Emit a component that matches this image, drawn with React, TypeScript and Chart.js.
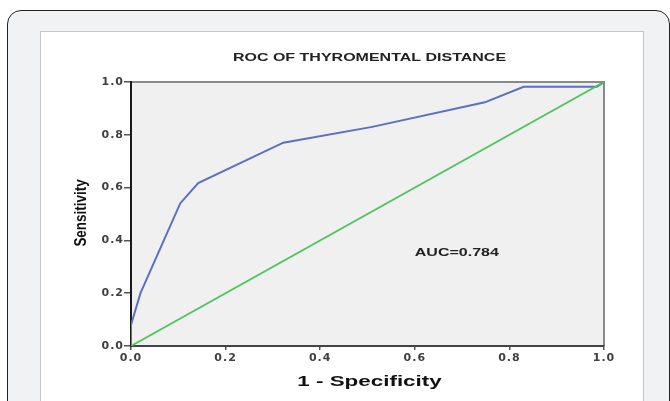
import React, { useEffect, useRef } from "react";
import { Chart, registerables } from "chart.js";

Chart.register(...registerables);

const chartTitle = "ROC OF THYROMENTAL DISTANCE";
const xAxisTitle = "1 - Specificity";
const yAxisTitle = "Sensitivity";
const aucLabel = "AUC=0.784";
const aucPos = [0.6, 0.35];

const fprValues = [0, 0, 0.02, 0.104, 0.142, 0.322, 0.51, 0.748, 0.83, 0.985, 1];
const tprValues = [0, 0.08, 0.2, 0.54, 0.617, 0.77, 0.83, 0.923, 0.982, 0.982, 1];
const refX = [0, 1];
const refY = [0, 1];
const tickValues = [0, 0.2, 0.4, 0.6, 0.8, 1.0];

function stretchedText(ctx: CanvasRenderingContext2D, text: string, x: number, y: number, sx: number, font: string, color: string, align: CanvasTextAlign, rotate = 0) {
  ctx.save();
  ctx.letterSpacing = "0px";
  ctx.translate(x, y);
  if (rotate) ctx.rotate(rotate);
  ctx.scale(sx, 1);
  ctx.font = font;
  ctx.fillStyle = color;
  ctx.textAlign = align;
  ctx.textBaseline = "middle";
  ctx.fillText(text, 0, 0);
  ctx.restore();
}

const decorPlugin = {
  id: "decor",
  beforeDraw(chart: any) {
    const { ctx, chartArea: a } = chart;
    ctx.save();
    ctx.fillStyle = "#f0f0f0";
    ctx.fillRect(a.left, a.top, a.right - a.left, a.bottom - a.top);
    ctx.strokeStyle = "#8a8a8a";
    ctx.lineWidth = 2;
    ctx.beginPath();
    ctx.moveTo(a.left, a.top);
    ctx.lineTo(a.right, a.top);
    ctx.lineTo(a.right, a.bottom);
    ctx.stroke();
    ctx.restore();
    ctx.letterSpacing = "1px";
  },
  afterDraw(chart: any) {
    const { ctx, chartArea: a, scales } = chart;
    const cx = (a.left + a.right) / 2 + 2;
    stretchedText(ctx, chartTitle, cx, a.top - 24, 1.6, "bold 10px 'Liberation Sans', Arial, sans-serif", "#222", "center");
    stretchedText(ctx, xAxisTitle, cx, a.bottom + 36, 1.6, "bold 14px 'Liberation Sans', Arial, sans-serif", "#111", "center");
    stretchedText(ctx, yAxisTitle, a.left - 49, (a.top + a.bottom) / 2 - 1, 0.84, "bold 16px 'Liberation Sans', Arial, sans-serif", "#111", "center", -Math.PI / 2);
    const ax = scales.x.getPixelForValue(aucPos[0]);
    const ay = scales.y.getPixelForValue(aucPos[1]);
    stretchedText(ctx, aucLabel, ax, ay, 1.6, "bold 10px 'Liberation Sans', Arial, sans-serif", "#222", "left");
  },
};

export default function App() {
  const ref = useRef<HTMLCanvasElement | null>(null);
  useEffect(() => {
    if (!ref.current) return;
    const tickFont = { family: "'DejaVu Sans', sans-serif", weight: "bold" as const, size: 11 };
    const chart = new Chart(ref.current, {
      type: "line",
      data: {
        datasets: [
          {
            label: "Reference",
            data: refX.map((x, i) => ({ x, y: refY[i] })),
            borderColor: "#4fc45c",
            borderWidth: 1.8,
            pointRadius: 0,
            tension: 0,
          },
          {
            label: "ROC",
            data: fprValues.map((x, i) => ({ x, y: tprValues[i] })),
            borderColor: "#5c6fc2",
            borderWidth: 2,
            pointRadius: 0,
            tension: 0,
          },
        ],
      },
      options: {
        animation: false,
        responsive: false,
        maintainAspectRatio: false,
        layout: { padding: { left: 91, right: 66, top: 82, bottom: 35 } },
        plugins: { legend: { display: false }, tooltip: { enabled: false }, title: { display: false } },
        scales: {
          x: {
            type: "linear",
            min: 0,
            max: 1,
            afterFit: (s: any) => { s.height = 20; },
            afterBuildTicks: (s: any) => { s.ticks = tickValues.map((v) => ({ value: v })); },
            ticks: { font: tickFont, color: "#404040", padding: 2, maxRotation: 0, callback: (v: any) => Number(v).toFixed(1) },
            grid: { display: true, drawOnChartArea: false, drawTicks: true, tickLength: 4, color: "#555", lineWidth: 1.5 },
            border: { display: true, color: "#444", width: 2 },
          },
          y: {
            type: "linear",
            min: 0,
            max: 1,
            afterFit: (s: any) => { s.width = 40; },
            afterBuildTicks: (s: any) => { s.ticks = tickValues.map((v) => ({ value: v })); },
            ticks: { font: tickFont, color: "#404040", padding: 0, callback: (v: any) => Number(v).toFixed(1) },
            grid: { display: true, drawOnChartArea: false, drawTicks: true, tickLength: 7, color: "#555", lineWidth: 1.5 },
            border: { display: true, color: "#1a1a1a", width: 2 },
          },
        },
      },
      plugins: [decorPlugin],
    });
    return () => chart.destroy();
  }, []);

  return (
    <div style={{ position: "absolute", left: 0, top: 0, width: 670, height: 401, overflow: "hidden", background: "#fff" }}>
      <div
        style={{
          position: "absolute",
          left: 7,
          top: 10,
          width: 663,
          height: 430,
          boxSizing: "border-box",
          border: "1.5px solid #222",
          borderRadius: 14,
          background: "#f1f2f4",
        }}
      />
      <div
        style={{
          position: "absolute",
          left: 40,
          top: 31,
          width: 604,
          height: 420,
          boxSizing: "border-box",
          border: "1px solid #c6c6c6",
          background: "#fff",
        }}
      />
      <canvas ref={ref} width={670} height={401} style={{ position: "absolute", left: 0, top: 0, width: 670, height: 401 }} />
    </div>
  );
}
